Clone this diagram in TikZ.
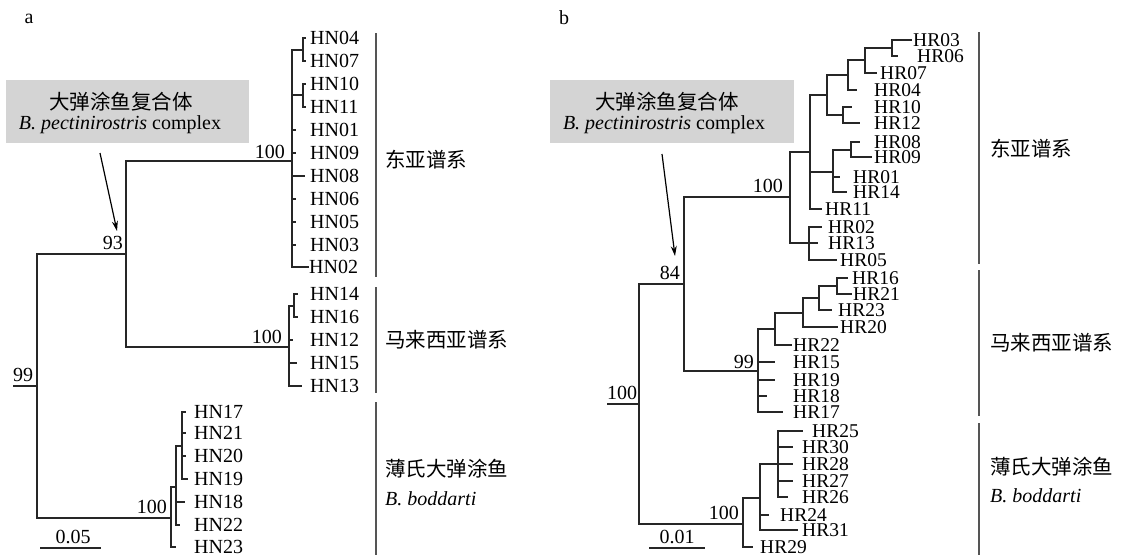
\documentclass[tikz,border=0pt]{standalone}
\usepackage{fontspec}
\setmainfont{Liberation Serif}
\newfontfamily\cjk{Noto Sans CJK SC}
\usetikzlibrary{arrows.meta}
\definecolor{boxgray}{RGB}{212,212,212}
\definecolor{bargray}{RGB}{85,85,85}
\newcommand\tipfontA{\fontsize{20}{20}\selectfont}
\newcommand\tipfontB{\fontsize{19.5}{19.5}\selectfont}
\newcommand\numfont{\fontsize{20}{20}\selectfont}
\newcommand\cjkfont{\cjk\fontsize{20.5}{21}\selectfont}
% parent, id, tick x, text x, y, label, font
\newcommand\tipA[6]{\coordinate (t#2) at (#3,#5); \draw[br] (#1) |- (t#2); \node[tiplblA] (l#2) at (#4,#5) {#6};}
\newcommand\tipB[6]{\coordinate (t#2) at (#3,#5); \draw[br] (#1) |- (t#2); \node[tiplblB] (l#2) at (#4,#5) {#6};}
\begin{document}
\begin{tikzpicture}[x=1pt,y=-1pt,
  br/.style={line width=1.2pt,black!85},
  tiplblA/.style={anchor=west,inner sep=0pt,font=\tipfontA},
  tiplblB/.style={anchor=west,inner sep=0pt,font=\tipfontB},
  num/.style={inner sep=0pt,font=\numfont},
  cladebar/.style={line width=1.8pt,bargray},
  grp/.style={anchor=west,inner sep=0pt,font=\cjkfont},
  grpit/.style={anchor=west,inner sep=0pt,font=\tipfontA\itshape},
  callout/.style={fill=boxgray,draw=none},
  pointer/.style={line width=1.2pt,-{Stealth[length=10pt,width=6pt]}},
  panel/.style={inner sep=0pt,font=\fontsize{20}{20}\selectfont}]
\useasboundingbox (0,0) rectangle (1121,555);

% ================= panel a =================
\node[panel] (pa) at (29,19) {a};
\node[callout,minimum width=243pt,minimum height=63pt,anchor=north west,inner sep=0pt] (boxa) at (6,80) {};
\node[inner sep=0pt,font=\cjkfont] (ca1) at (121,102) {大弹涂鱼复合体};
\node[inner sep=0pt,font=\tipfontA] (ca2) at (120,125) {\textit{B. pectinirostris} complex};
\coordinate (arA1) at (100,153);
\coordinate (arA2) at (117,231);
\draw[pointer] (arA1) -- (arA2);

\coordinate (aS) at (13,386);
\coordinate (aR) at (37,386);
\coordinate (a93) at (126,254);
\coordinate (aEA) at (292,161);
\coordinate (aMY) at (289,347);
\coordinate (aBD) at (171,518);
\coordinate (aE1) at (303,50);
\coordinate (aE2) at (303,95);
\coordinate (aM1) at (294,306);
\coordinate (aB1) at (176,487);
\coordinate (aB2) at (182,446);
\draw[br] (aS) -- (aR);
\draw[br] (aR) |- (a93);
\draw[br] (aR) |- (aBD);
\draw[br] (a93) |- (aEA);
\draw[br] (a93) |- (aMY);
\draw[br] (aEA) |- (aE1);
\draw[br] (aEA) |- (aE2);
\draw[br] (aMY) |- (aM1);
\draw[br] (aBD) |- (aB1);
\draw[br] (aB1) |- (aB2);

\tipA{aE1}{HN04}{306}{310}{38}{HN04}
\tipA{aE1}{HN07}{306}{310}{61}{HN07}
\tipA{aE2}{HN10}{306}{310}{84}{HN10}
\tipA{aE2}{HN11}{306}{310}{107}{HN11}
\tipA{aEA}{HN01}{296}{310}{130}{HN01}
\tipA{aEA}{HN09}{296}{310}{153}{HN09}
\tipA{aEA}{HN08}{305}{310}{176}{HN08}
\tipA{aEA}{HN06}{296}{310}{199}{HN06}
\tipA{aEA}{HN05}{296}{310}{222}{HN05}
\tipA{aEA}{HN03}{296}{310}{245}{HN03}
\tipA{aEA}{HN02}{309}{309}{267}{HN02}

\tipA{aM1}{HN14}{298}{310}{294}{HN14}
\tipA{aM1}{HN16}{298}{310}{317}{HN16}
\tipA{aMY}{HN12}{293}{310}{340}{HN12}
\tipA{aMY}{HN15}{297}{310}{363}{HN15}
\tipA{aMY}{HN13}{302}{310}{386}{HN13}

\tipA{aB2}{HN17}{186}{194}{412}{HN17}
\tipA{aB2}{HN21}{186}{194}{433}{HN21}
\tipA{aB2}{HN20}{186}{194}{456}{HN20}
\tipA{aB2}{HN19}{188}{194}{479}{HN19}
\tipA{aB1}{HN18}{185}{194}{502}{HN18}
\tipA{aB1}{HN22}{180}{194}{525}{HN22}
\tipA{aBD}{HN23}{176}{194}{547}{HN23}

\node[num,anchor=east] (na100a) at (285,152) {100};
\node[num,anchor=east] (na93) at (123,243) {93};
\node[num] (na99) at (23,375) {99};
\node[num,anchor=east] (na100b) at (282,337) {100};
\node[num,anchor=east] (na100c) at (167,507) {100};

\coordinate (aEAt) at (376,33); \coordinate (aEAb) at (376,277);
\coordinate (aMYt) at (376,287); \coordinate (aMYb) at (376,393);
\coordinate (aBDt) at (376,402); \coordinate (aBDb) at (376,555);
\draw[cladebar] (aEAt) -- (aEAb);
\draw[cladebar] (aMYt) -- (aMYb);
\draw[cladebar] (aBDt) -- (aBDb);
\node[grp] (ga1) at (385,160) {东亚谱系};
\node[grp] (ga2) at (385,340) {马来西亚谱系};
\node[grp] (ga3) at (385,469) {薄氏大弹涂鱼};
\node[grpit] (ga4) at (385,499) {B. boddarti};

\coordinate (sa1) at (40,548); \coordinate (sa2) at (101,548);
\draw[br] (sa1) -- (sa2);
\node[num] (sa) at (73,537) {0.05};

% ================= panel b =================
\node[panel] (pb) at (564,18) {b};
\node[callout,minimum width=244pt,minimum height=63pt,anchor=north west,inner sep=0pt] (boxb) at (550,80) {};
\node[inner sep=0pt,font=\cjkfont] (cb1) at (667,102) {大弹涂鱼复合体};
\node[inner sep=0pt,font=\tipfontA] (cb2) at (664,125) {\textit{B. pectinirostris} complex};
\coordinate (arB1) at (662,154);
\coordinate (arB2) at (675,256);
\draw[pointer] (arB1) -- (arB2);

\coordinate (bS) at (607,404);
\coordinate (bR) at (639,404);
\coordinate (b84) at (684,284);
\coordinate (bEA) at (790,197);
\coordinate (bMY) at (758,371);
\coordinate (bBD) at (743,524);
\coordinate (bX) at (810,152);
\coordinate (bA0) at (827,95);
\coordinate (bA) at (848,75);
\coordinate (bB) at (865,60);
\coordinate (bC) at (892,48);
\coordinate (bK) at (843,115);
\coordinate (bL) at (833,172);
\coordinate (bM) at (851,150);
\coordinate (bN) at (809,243);
\coordinate (bD) at (775,329);
\coordinate (bE) at (803,313);
\coordinate (bF) at (819,298);
\coordinate (bG) at (837,286);
\coordinate (bH) at (760,498);
\coordinate (bI) at (778,464);
\draw[br] (bS) -- (bR);
\draw[br] (bR) |- (b84);
\draw[br] (bR) |- (bBD);
\draw[br] (b84) |- (bEA);
\draw[br] (b84) |- (bMY);
\draw[br] (bEA) |- (bX);
\draw[br] (bEA) |- (bN);
\draw[br] (bX) |- (bA0);
\draw[br] (bX) |- (bL);
\draw[br] (bA0) |- (bA);
\draw[br] (bA0) |- (bK);
\draw[br] (bA) |- (bB);
\draw[br] (bB) |- (bC);
\draw[br] (bL) |- (bM);
\draw[br] (bMY) |- (bD);
\draw[br] (bD) |- (bE);
\draw[br] (bE) |- (bF);
\draw[br] (bF) |- (bG);
\draw[br] (bBD) |- (bH);
\draw[br] (bH) |- (bI);

\tipB{bC}{HR03}{912}{913}{40}{HR03}
\tipB{bC}{HR06}{898}{917}{56}{HR06}
\tipB{bB}{HR07}{877}{880}{73}{HR07}
\tipB{bA}{HR04}{857}{874}{90}{HR04}
\tipB{bK}{HR10}{852}{874}{107}{HR10}
\tipB{bK}{HR12}{860}{874}{123}{HR12}
\tipB{bM}{HR08}{860}{874}{142}{HR08}
\tipB{bM}{HR09}{872}{874}{157}{HR09}
\tipB{bL}{HR01}{840}{853}{177}{HR01}
\tipB{bL}{HR14}{847}{853}{192}{HR14}
\tipB{bX}{HR11}{822}{825}{209}{HR11}
\tipB{bN}{HR02}{822}{828}{227}{HR02}
\tipB{bN}{HR13}{818}{828}{243}{HR13}
\tipB{bN}{HR05}{837}{840}{260}{HR05}

\tipB{bG}{HR16}{848}{852}{278}{HR16}
\tipB{bG}{HR21}{852}{853}{294}{HR21}
\tipB{bF}{HR23}{832}{838}{310}{HR23}
\tipB{bE}{HR20}{838}{840}{327}{HR20}
\tipB{bD}{HR22}{792}{793}{345}{HR22}
\tipB{bMY}{HR15}{775}{793}{362}{HR15}
\tipB{bMY}{HR19}{775}{793}{380}{HR19}
\tipB{bMY}{HR18}{767}{793}{396}{HR18}
\tipB{bMY}{HR17}{783}{793}{412}{HR17}

\tipB{bI}{HR25}{803}{812}{431}{HR25}
\tipB{bI}{HR30}{793}{802}{447}{HR30}
\tipB{bI}{HR28}{793}{802}{464}{HR28}
\tipB{bI}{HR27}{793}{802}{481}{HR27}
\tipB{bI}{HR26}{788}{802}{497}{HR26}
\tipB{bH}{HR24}{769}{780}{515}{HR24}
\tipB{bH}{HR31}{798}{802}{530}{HR31}
\tipB{bBD}{HR29}{753}{760}{547}{HR29}

\node[num,anchor=east] (nb100a) at (783,186) {100};
\node[num,anchor=east] (nb84) at (680,273) {84};
\node[num,anchor=east] (nb99) at (754,362) {99};
\node[num] (nb100r) at (622,393) {100};
\node[num,anchor=east] (nb100c) at (739,513) {100};

\coordinate (bEAt) at (979,32); \coordinate (bEAb) at (979,264);
\coordinate (bMYt) at (979,270); \coordinate (bMYb) at (979,416);
\coordinate (bBDt) at (979,423); \coordinate (bBDb) at (979,555);
\draw[cladebar] (bEAt) -- (bEAb);
\draw[cladebar] (bMYt) -- (bMYb);
\draw[cladebar] (bBDt) -- (bBDb);
\node[grp] (gb1) at (990,149) {东亚谱系};
\node[grp] (gb2) at (990,343) {马来西亚谱系};
\node[grp] (gb3) at (990,467) {薄氏大弹涂鱼};
\node[grpit] (gb4) at (990,496) {B. boddarti};

\coordinate (sb1) at (649,548); \coordinate (sb2) at (705,548);
\draw[br] (sb1) -- (sb2);
\node[num] (sb) at (677,537) {0.01};
\end{tikzpicture}
\end{document}
